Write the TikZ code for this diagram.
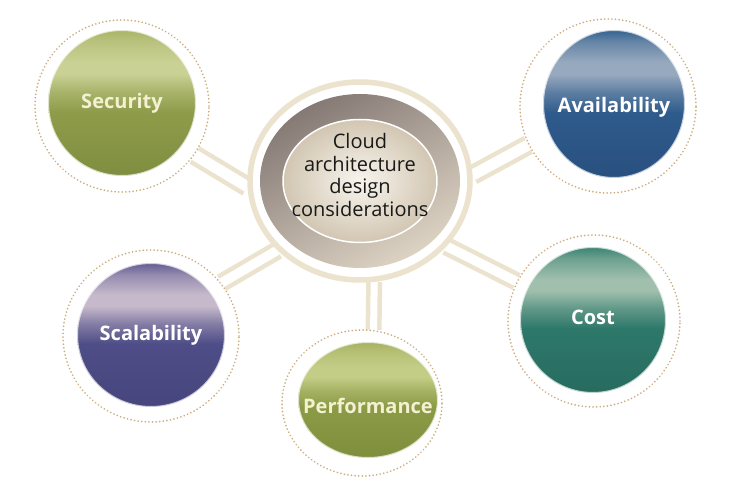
\documentclass[tikz,border=0pt]{standalone}
\usepackage{fontspec}
\setmainfont{Open Sans}
\usetikzlibrary{shapes.geometric}
\pgfdeclarelayer{bg}
\pgfsetlayers{bg,main}

\definecolor{beige}{HTML}{ECE3CF}
\definecolor{dotc}{HTML}{CDAE80}
\definecolor{taupeD}{HTML}{857975}
\definecolor{taupeL}{HTML}{DDD3C3}
\definecolor{innC}{HTML}{F8F5EE}
\definecolor{innE}{HTML}{D2C6B2}
\definecolor{cream}{HTML}{F4F0D2}

\definecolor{secD}{HTML}{7F8D40}\definecolor{secB}{HTML}{8E9C4A}\definecolor{secL}{HTML}{C9D194}\definecolor{secT}{HTML}{A9B466}
\definecolor{perD}{HTML}{7E8E3C}\definecolor{perB}{HTML}{8B9B46}\definecolor{perL}{HTML}{C4CD86}\definecolor{perT}{HTML}{A5B162}
\definecolor{avaD}{HTML}{29507F}\definecolor{avaB}{HTML}{2E5B8C}\definecolor{avaL}{HTML}{97A9BE}\definecolor{avaT}{HTML}{34628F}
\definecolor{cosD}{HTML}{286B5F}\definecolor{cosB}{HTML}{2D786A}\definecolor{cosL}{HTML}{A0BFAD}\definecolor{cosT}{HTML}{3A8373}
\definecolor{scaD}{HTML}{47457C}\definecolor{scaB}{HTML}{4F4D87}\definecolor{scaL}{HTML}{C6B9CB}\definecolor{scaT}{HTML}{625C92}

\newcommand\mkballshade[5]{\pgfdeclareverticalshading{#1}{100bp}{color(0bp)=(#2); color(25bp)=(#2); color(47bp)=(#3); color(54bp)=(#3!55!#4); color(60bp)=(#4); color(64bp)=(#4); color(71bp)=(#4!50!#5); color(75bp)=(#5); color(100bp)=(#5)}}
\mkballshade{secsh}{secD}{secB}{secL}{secT}
\mkballshade{persh}{perD}{perB}{perL}{perT}
\mkballshade{avash}{avaD}{avaB}{avaL}{avaT}
\mkballshade{cossh}{cosD}{cosB}{cosL}{cosT}
\mkballshade{scash}{scaD}{scaB}{scaL}{scaT}

\tikzset{
  dotring/.style={ellipse, draw=dotc, line width=1.9pt, dash pattern=on 0.01pt off 3.6pt, line cap=round, fill=white, inner sep=0pt},
  ball/.style={ellipse, inner sep=0pt, shade, shading=#1, draw=white, draw opacity=0.7, line width=2pt},
  lbl/.style={font=\bfseries\fontsize{20}{24}\selectfont, text=#1, inner sep=0pt},
  conn/.style={draw=beige, line width=4.5pt, double=white, double distance=#1},
  conn/.default=9.5pt,
  cring/.style={ellipse, draw=beige, line width=5.5pt, fill=white, inner sep=0pt},
  ctaupe/.style={ellipse, shade, top color=taupeD, bottom color=taupeL, shading angle=30, inner sep=0pt},
  cinner/.style={ellipse, inner color=innC, outer color=innE, draw=white, line width=1.5pt, inner sep=0pt},
  ctext/.style={font=\fontsize{20}{22.5}\selectfont, align=center, text=black!90, inner sep=0pt}
}

\begin{document}
\begin{tikzpicture}[x=1pt,y=1pt]
\useasboundingbox (0,0) rectangle (737,493);

% centre
\node[cring, minimum width=220pt, minimum height=198pt] (cring) at (360,312) {};
\node[ctaupe, minimum width=200pt, minimum height=174pt] (ctaupe) at (360,312) {};
\node[cinner, minimum width=154pt, minimum height=123pt] (cin) at (360,312) {};
\node[ctext] (ctx) at (360,318) {Cloud\\architecture\\design\\considerations};

% satellites: dotted rings
\node[dotring, minimum width=174pt, minimum height=172pt] (sec) at (122,387) {};
\node[dotring, minimum width=176pt, minimum height=174pt] (ava) at (608,387) {};
\node[dotring, minimum width=172pt, minimum height=172pt] (cos) at (594,172) {};
\node[dotring, minimum width=176pt, minimum height=172pt] (sca) at (151,157) {};
\node[dotring, minimum width=160pt, minimum height=146pt] (per) at (362,90) {};

% balls
\node[ball=secsh, minimum width=148pt, minimum height=146pt] (secb) at (122,390) {};
\node[ball=avash, minimum width=142pt, minimum height=148pt] (avab) at (614,389) {};
\node[ball=cossh, minimum width=146pt, minimum height=146pt] (cosb) at (593,173) {};
\node[ball=scash, minimum width=148pt, minimum height=144pt] (scab) at (151,158) {};
\node[ball=persh, minimum width=140pt, minimum height=116pt] (perb) at (368,93) {};

% labels
\node[lbl=cream] (sect) at (secb.center) {Security};
\node[lbl=white] (avat) at ([yshift=-3pt]avab.center) {Availability};
\node[lbl=white] (cost) at ([yshift=3pt]cosb.center) {Cost};
\node[lbl=white] (scat) at (scab.center) {Scalability};
\node[lbl=cream] (pert) at ([yshift=-6pt]perb.center) {Performance};

% connectors
\begin{pgfonlayer}{bg}
\fill[white] (0,0) rectangle (737,493);
\draw[conn=11pt] (cring.183) -- (sec.-34);
\draw[conn=11pt] (cring.3) -- (ava.206);
\draw[conn] (cring.-37) -- (cos.153);
\draw[conn] (cring.220) -- (sca.37);
\draw[conn=7pt] (cring.-82) -- (per.81);
\end{pgfonlayer}
\end{tikzpicture}
\end{document}
